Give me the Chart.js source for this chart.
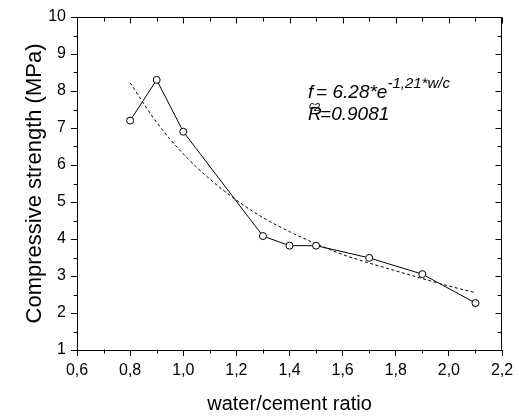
<!DOCTYPE html>
<html><head><meta charset="utf-8">
<script src="https://cdn.jsdelivr.net/npm/chart.js@4/dist/chart.umd.min.js"></script>
<style>html,body{margin:0;padding:0;background:#fff}#wrap{width:519px;height:418px}</style>
</head><body><div id="wrap"><canvas id="c" width="519" height="418"></canvas></div>
<script>
// ---- data ----
const wcRatio = [0.8, 0.9, 1.0, 1.3, 1.4, 1.5, 1.7, 1.9, 2.1];
const strength = [7.2, 8.3, 6.9, 4.08, 3.82, 3.82, 3.49, 3.05, 2.27];
const fitRatio = [0.8, 0.9, 1.0, 1.1, 1.2, 1.3, 1.4, 1.5, 1.6, 1.7, 1.8, 1.9, 2.0, 2.1];
const fitStrength = [8.22, 7.15, 6.30, 5.62, 5.05, 4.58, 4.20, 3.87, 3.58, 3.35, 3.14, 2.93, 2.73, 2.55];
const xTickValues = [0.6, 0.8, 1.0, 1.2, 1.4, 1.6, 1.8, 2.0, 2.2];
const xTickLabels = ['0,6', '0,8', '1,0', '1,2', '1,4', '1,6', '1,8', '2,0', '2,2'];
const yTickValues = [1, 2, 3, 4, 5, 6, 7, 8, 9, 10];
const yTickLabels = ['1', '2', '3', '4', '5', '6', '7', '8', '9', '10'];
const xTitle = 'water/cement ratio';
const yTitle = 'Compressive strength (MPa)';

const FONT = '"Liberation Sans", Arial, sans-serif';
Chart.defaults.font.family = FONT;
Chart.defaults.color = '#000';

const xMinor = xTickValues.slice(0, -1).map((v, i) => (v + xTickValues[i + 1]) / 2);
const yMinor = yTickValues.slice(0, -1).map((v, i) => (v + yTickValues[i + 1]) / 2);

const frameTicks = {
  id: 'frameTicks',
  afterDraw(chart) {
    const {ctx, chartArea: a, scales: {x, y}} = chart;
    const L = Math.round(a.left) + 0.5, R = Math.round(a.right) - 0.5;
    const T = Math.round(a.top) + 0.5, B = Math.round(a.bottom) - 0.5;
    ctx.save();
    ctx.strokeStyle = '#000';
    ctx.lineWidth = 1;
    ctx.beginPath();
    ctx.moveTo(L, T); ctx.lineTo(R, T); ctx.lineTo(R, B);
    xTickValues.forEach(v => { const p = Math.round(x.getPixelForValue(v)) + 0.5; ctx.moveTo(p, T); ctx.lineTo(p, T + 6); });
    yTickValues.forEach(v => { const p = Math.round(y.getPixelForValue(v)) + 0.5; ctx.moveTo(R, p); ctx.lineTo(R - 6, p); });
    xMinor.forEach(v => {
      const p = Math.round(x.getPixelForValue(v)) + 0.5;
      ctx.moveTo(p, T); ctx.lineTo(p, T + 4);
      ctx.moveTo(p, B); ctx.lineTo(p, B + 4);
    });
    yMinor.forEach(v => {
      const p = Math.round(y.getPixelForValue(v)) + 0.5;
      ctx.moveTo(R, p); ctx.lineTo(R - 4, p);
      ctx.moveTo(L, p); ctx.lineTo(L - 4, p);
    });
    ctx.stroke();
    ctx.restore();
  }
};

const equation = {
  id: 'equation',
  afterDraw(chart) {
    const {ctx, scales: {x, y}} = chart;
    const x0 = x.getPixelForValue(1.47);
    const b1 = y.getPixelForValue(7.81);
    const b2 = y.getPixelForValue(7.22);
    ctx.save();
    ctx.fillStyle = '#000';
    ctx.textBaseline = 'alphabetic';
    ctx.textAlign = 'left';
    const big = 'italic 19px ' + FONT, sub = 'italic 11px ' + FONT, sup = 'italic 15px ' + FONT;
    ctx.font = big; ctx.fillText('f', x0, b1);
    ctx.font = sub; ctx.fillText('c', x0 + 1, b1 + 11);
    ctx.font = big; const t1 = '= 6.28*e'; ctx.fillText(t1, x0 + 8, b1);
    const ex = x0 + 8 + ctx.measureText(t1).width;
    ctx.font = sup; ctx.fillText('-1,21*w/c', ex, b1 - 10);
    ctx.font = big; ctx.fillText('R', x0, b2);
    ctx.font = sub; ctx.fillText('2', x0 + 6, b2 - 9);
    ctx.font = big; ctx.fillText('=0.9081', x0 + 12, b2);
    ctx.restore();
  }
};

new Chart(document.getElementById('c'), {
  type: 'line',
  data: {
    datasets: [
      {
        label: 'measured',
        data: wcRatio.map((v, i) => ({x: v, y: strength[i]})),
        borderColor: '#000', borderWidth: 1, tension: 0, fill: false,
        pointRadius: 3.5, pointBackgroundColor: '#fff', pointBorderColor: '#000', pointBorderWidth: 1,
        order: 1
      },
      {
        label: 'fit',
        data: fitRatio.map((v, i) => ({x: v, y: fitStrength[i]})),
        borderColor: '#000', borderWidth: 1, borderDash: [3, 2.5], fill: false,
        cubicInterpolationMode: 'monotone', pointRadius: 0,
        order: 2
      }
    ]
  },
  options: {
    responsive: false, animation: false, devicePixelRatio: 1,
    layout: {padding: {left: 0, right: 17, top: 17, bottom: 0}},
    plugins: {legend: {display: false}, tooltip: {enabled: false}},
    scales: {
      x: {
        type: 'linear', min: 0.6, max: 2.2,
        afterBuildTicks: s => { s.ticks = xTickValues.map(v => ({value: v})); },
        afterFit: s => { s.height = 68; },
        ticks: {
          callback: v => { const i = xTickValues.findIndex(t => Math.abs(t - v) < 1e-6); return i >= 0 ? xTickLabels[i] : ''; },
          font: {size: 16}, color: '#000', padding: 5, maxRotation: 0, autoSkip: false
        },
        grid: {drawOnChartArea: false, drawTicks: true, tickLength: 6, tickColor: '#000', tickWidth: 1},
        border: {display: true, color: '#000', width: 1},
        title: {display: true, text: xTitle, font: {size: 20}, color: '#000', padding: {top: 0, bottom: 2}}
      },
      y: {
        type: 'linear', min: 1, max: 10,
        afterBuildTicks: s => { s.ticks = yTickValues.map(v => ({value: v})); },
        afterFit: s => { s.width = 77; },
        ticks: {
          callback: v => { const i = yTickValues.findIndex(t => Math.abs(t - v) < 1e-6); return i >= 0 ? yTickLabels[i] : ''; },
          font: {size: 16}, color: '#000', padding: 5, autoSkip: false
        },
        grid: {drawOnChartArea: false, drawTicks: true, tickLength: 6, tickColor: '#000', tickWidth: 1},
        border: {display: true, color: '#000', width: 1},
        title: {display: true, text: yTitle, font: {size: 22}, color: '#000', padding: {top: 22, bottom: 0}}
      }
    }
  },
  plugins: [frameTicks, equation]
});
</script>
</body></html>
